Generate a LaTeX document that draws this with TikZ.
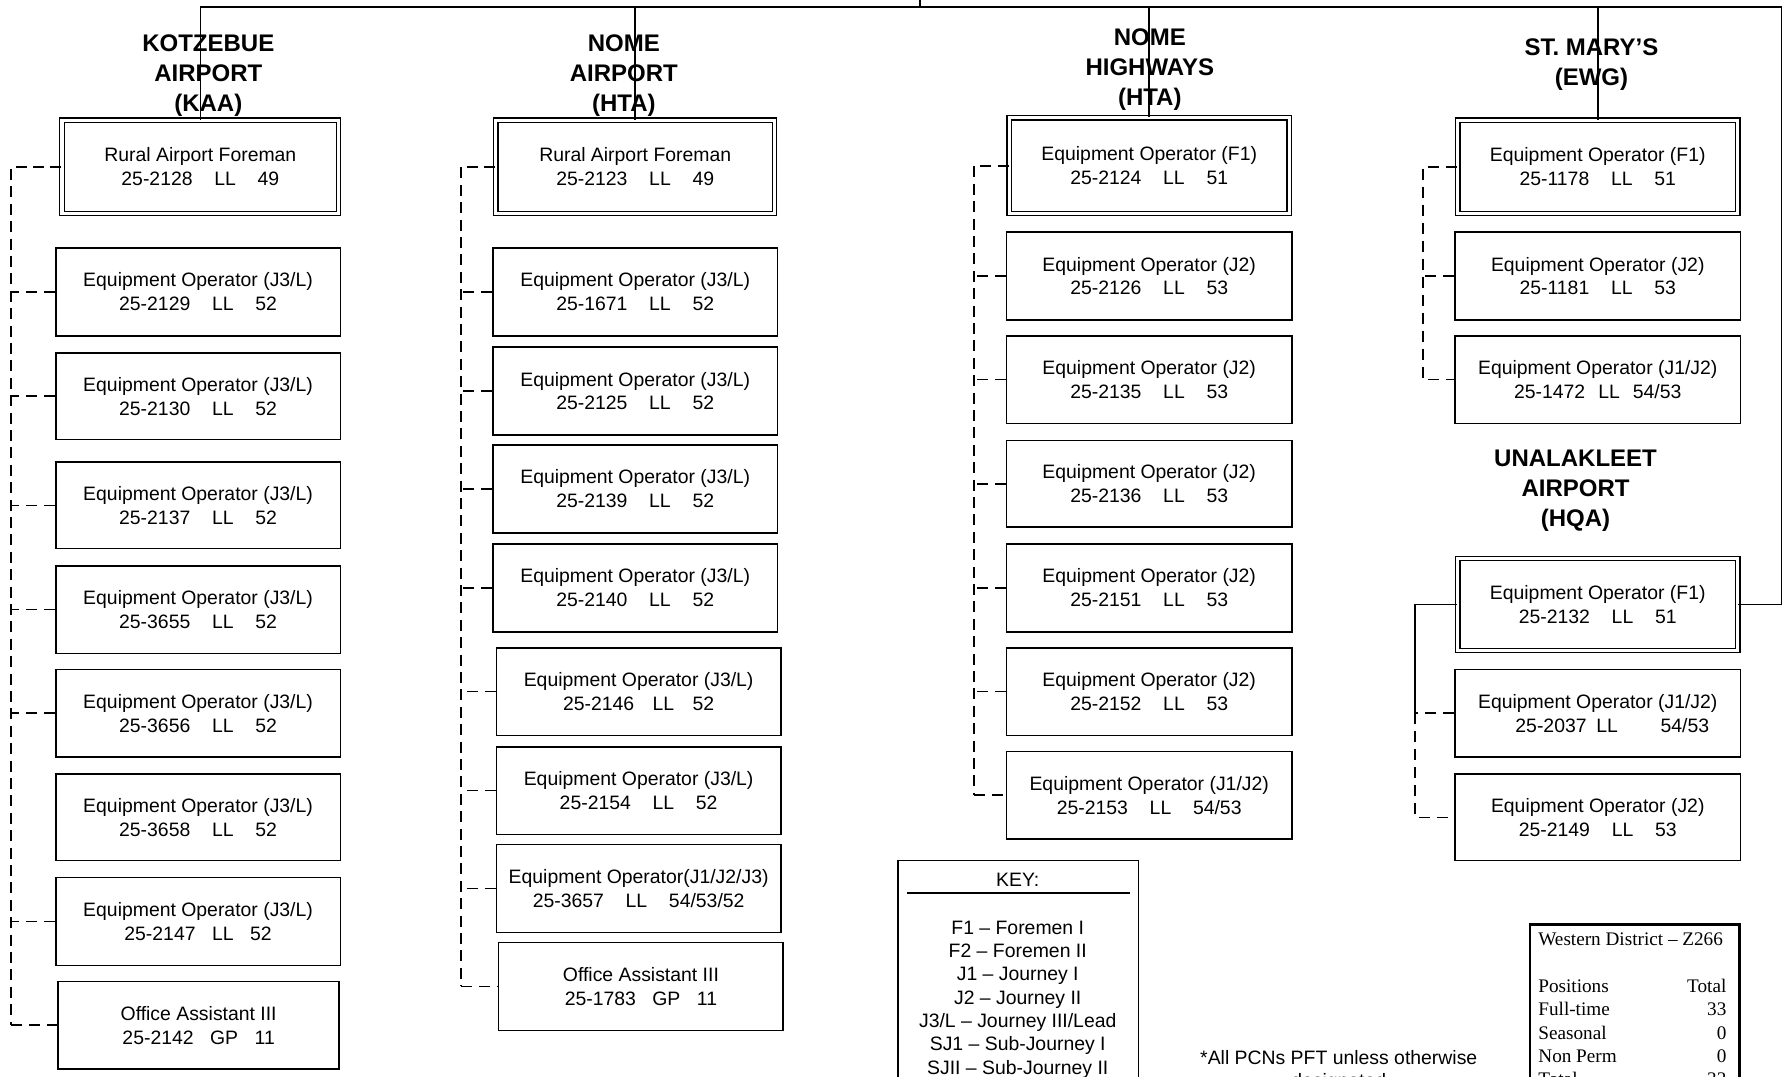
\documentclass[tikz,border=0pt]{standalone}
\usepackage{fontspec}
\setmainfont{Liberation Sans}
\newfontfamily\tnr{Liberation Serif}
\newcommand\gw{\hspace{1.12em}}
\newcommand\gm{\hspace{0.85em}}
\newcommand\gn{\hspace{0.67em}}
\newcommand\mybox[7]{\node[#1, minimum width={(#5-#3)*0.5692pt}, minimum height={(#6-#4)*0.5692pt}] (#2) at ({(#3+#5)/2},{(#4+#6)/2}) {#7};}
\tikzset{
  box/.style={draw, line width=0.75pt, inner sep=0pt, align=center, font=\fontsize{9.7}{11.95}\selectfont},
  dbox/.style={box, double, double distance=1.6pt, line width=0.6pt},
  plainbox/.style={draw, line width=0.75pt, inner sep=0pt},
  sumbox/.style={draw, line width=1.2pt, inner sep=0pt},
  head/.style={align=center, inner sep=0pt, font=\bfseries\fontsize{12}{15}\selectfont},
  trunk/.style={line width=1pt, dash pattern=on 5.5pt off 3.2pt},
  branch/.style={line width=0.8pt, dash pattern=on 5.5pt off 3.5pt},
  solidline/.style={line width=0.75pt},
  txt/.style={inner sep=0pt, align=center, font=\fontsize{9.7}{11.67}\selectfont},
}
\begin{document}
\begin{tikzpicture}[x=0.5692pt, y=-0.5692pt]
\fill[white] (0,0) rectangle (1568,946);
\useasboundingbox (0,0) rectangle (1568,946);

% ---------- headings ----------
\node[head] (hk) at (183,66.5) {KOTZEBUE\\AIRPORT\\(KAA)};
\node[head] (hn) at (548,66.5) {NOME\\AIRPORT\\(HTA)};
\node[head] (hh) at (1010,61.5) {NOME\\HIGHWAYS\\(HTA)};
\node[head] (hs) at (1398,57) {ST. MARY’S\\(EWG)};
\node[head] (hu) at (1384,431.5) {UNALAKLEET\\AIRPORT\\(HQA)};

% ---------- Kotzebue ----------
\mybox{dbox}{k0}{54.5}{105.5}{297.5}{187.5}{Rural Airport Foreman\\25-2128\gw LL\gw 49}
\mybox{box}{k1}{49}{218}{299}{295}{Equipment Operator (J3/L)\\25-2129\gw LL\gw 52}
\mybox{box}{k2}{49}{310}{299}{386}{Equipment Operator (J3/L)\\25-2130\gw LL\gw 52}
\mybox{box}{k3}{49}{406}{299}{482}{Equipment Operator (J3/L)\\25-2137\gw LL\gw 52}
\mybox{box}{k4}{49}{497}{299}{574}{Equipment Operator (J3/L)\\25-3655\gw LL\gw 52}
\mybox{box}{k5}{49}{588}{299}{665}{Equipment Operator (J3/L)\\25-3656\gw LL\gw 52}
\mybox{box}{k6}{49}{680}{299}{756}{Equipment Operator (J3/L)\\25-3658\gw LL\gw 52}
\mybox{box}{k7}{49}{771}{299}{848}{Equipment Operator (J3/L)\\25-2147\gm LL\gm 52}
\mybox{box}{k8}{51}{862}{298}{939}{Office Assistant III\\25-2142\gm GP\gm 11}

% ---------- Nome Airport ----------
\mybox{dbox}{n0}{435.5}{105.5}{680.5}{187.5}{Rural Airport Foreman\\25-2123\gw LL\gw 49}
\mybox{box}{n1}{433}{218}{683}{295}{Equipment Operator (J3/L)\\25-1671\gw LL\gw 52}
\mybox{box}{n2}{433}{305}{683}{382}{Equipment Operator (J3/L)\\25-2125\gw LL\gw 52}
\mybox{box}{n3}{433}{391}{683}{468}{Equipment Operator (J3/L)\\25-2139\gw LL\gw 52}
\mybox{box}{n4}{433}{478}{683}{555}{Equipment Operator (J3/L)\\25-2140\gw LL\gw 52}
\mybox{box}{n5}{436}{569}{686}{646}{Equipment Operator (J3/L)\\25-2146\hspace{0.95em}LL\hspace{0.95em}52}
\mybox{box}{n6}{436}{656}{686}{733}{Equipment Operator (J3/L)\\25-2154\gw LL\gw 52}
\mybox{box}{n7}{436}{742}{686}{819}{Equipment Operator(J1/J2/J3)\\25-3657\gw LL\gw 54/53/52}
\mybox{box}{n8}{438}{828}{688}{905}{Office Assistant III\\25-1783\gm GP\gm 11}

% ---------- Nome Highways ----------
\mybox{dbox}{h0}{886.5}{103.5}{1132.5}{187.5}{Equipment Operator (F1)\\25-2124\gw LL\gw 51}
\mybox{box}{h1}{884}{204}{1135}{281}{Equipment Operator (J2)\\25-2126\gw LL\gw 53}
\mybox{box}{h2}{884}{295}{1135}{372}{Equipment Operator (J2)\\25-2135\gw LL\gw 53}
\mybox{box}{h3}{884}{387}{1135}{463}{Equipment Operator (J2)\\25-2136\gw LL\gw 53}
\mybox{box}{h4}{884}{478}{1135}{555}{Equipment Operator (J2)\\25-2151\gw LL\gw 53}
\mybox{box}{h5}{884}{569}{1135}{646}{Equipment Operator (J2)\\25-2152\gw LL\gw 53}
\mybox{box}{h6}{884}{660}{1135}{737}{Equipment Operator (J1/J2)\\25-2153\gw LL\gw 54/53}

% ---------- St. Mary's ----------
\mybox{dbox}{s0}{1280.5}{105.5}{1526.5}{187.5}{Equipment Operator (F1)\\25-1178\gw LL\gw 51}
\mybox{box}{s1}{1278}{204}{1529}{281}{Equipment Operator (J2)\\25-1181\gw LL\gw 53}
\mybox{box}{s2}{1278}{295}{1529}{372}{Equipment Operator (J1/J2)\\25-1472\gn LL\gn 54/53}

% ---------- Unalakleet ----------
\mybox{dbox}{u0}{1280.5}{490.5}{1526.5}{571.5}{Equipment Operator (F1)\\25-2132\gw LL\gw 51}
\mybox{box}{u1}{1278}{588}{1529}{665}{Equipment Operator (J1/J2)\\\hspace{1.5em}25-2037\hspace{0.5em}LL\hspace{2.2em}54/53}
\mybox{box}{u2}{1278}{680}{1529}{756}{Equipment Operator (J2)\\25-2149\gw LL\gw 53}

% ---------- solid top connectors ----------
\coordinate (bus) at (0,6);
\coordinate (rc) at (1565,6);
\coordinate (par) at (808,-5);
\draw[solidline] (par) -- (par |- bus);
\draw[solidline] (k0.north) -- (k0.north |- bus) -- (rc) -- (rc |- u0.east) -- (u0.east);
\draw[solidline] (n0.north) -- (n0.north |- bus);
\draw[solidline] (h0.north) -- (h0.north |- bus);
\draw[solidline] (s0.north) -- (s0.north |- bus);

% ---------- dashed trunks ----------
\coordinate (kt) at (10,0);
\draw[trunk] (k0.west) -- (k0.west -| kt) -- (k8.west -| kt);
\draw[branch] (k8.west -| kt) -- (k8.west);
\foreach \b in {k1,k2,k3,k4,k5,k7} \draw[branch] (\b.west) -- (\b.west -| kt);

\coordinate (nt) at (405,0);
\draw[trunk] (n0.west) -- (n0.west -| nt) -- (n8.west -| nt);
\draw[branch] (n8.west -| nt) -- (n8.west);
\foreach \b in {n1,n2,n3,n4,n5,n6,n7} \draw[branch] (\b.west) -- (\b.west -| nt);

\coordinate (ht) at (856,0);
\draw[trunk] (h0.west) -- (h0.west -| ht) -- (h6.west -| ht);
\draw[branch] (h6.west -| ht) -- (h6.west);
\foreach \b in {h1,h2,h3,h4,h5} \draw[branch] (\b.west) -- (\b.west -| ht);

\coordinate (st) at (1250,0);
\draw[branch] (s0.west) -- (s0.west -| st) -- (s2.west -| st) -- (s2.west);
\draw[branch] (s1.west) -- (s1.west -| st);

\coordinate (ut) at (1243,0);
\draw[solidline] (u0.west) -- (u0.west -| ut) -- (u1.west -| ut);
\draw[branch] (u1.west -| ut) -- (u2.west -| ut) -- (u2.west);
\draw[branch] (u1.west) -- (u1.west -| ut);

% ---------- key ----------
\mybox{plainbox}{key}{789}{756}{1000}{990}{}
\node[txt] (keyh) at (894,773) {KEY:};
\coordinate (kl1) at (797,784);
\coordinate (kl2) at (993,784);
\draw[line width=1pt] (kl1) -- (kl2);
\node[txt, anchor=north] (keyl) at (894,808.5) {F1 – Foremen I\\F2 – Foremen II\\J1 – Journey I\\J2 – Journey II\\J3/L – Journey III/Lead\\SJ1 – Sub-Journey I\\SJII – Sub-Journey II};

% ---------- footnote ----------
\node[txt] (foot) at (1176,940.5) {*All PCNs PFT unless otherwise\\designated};

% ---------- summary ----------
\mybox{sumbox}{sum}{1344}{812}{1528}{990}{}
\node[anchor=north west, inner sep=0pt, font=\tnr\fontsize{9.6}{11.67}\selectfont] (sumt) at (1351,816) {%
\begin{tabular*}{94pt}{@{}l@{\extracolsep{\fill}}r@{}}
\multicolumn{2}{@{}l@{}}{Western District – Z266}\\
\\
Positions & Total\\
Full-time & 33\\
Seasonal & 0\\
Non Perm & 0\\
Total & 33
\end{tabular*}};
\end{tikzpicture}
\end{document}
